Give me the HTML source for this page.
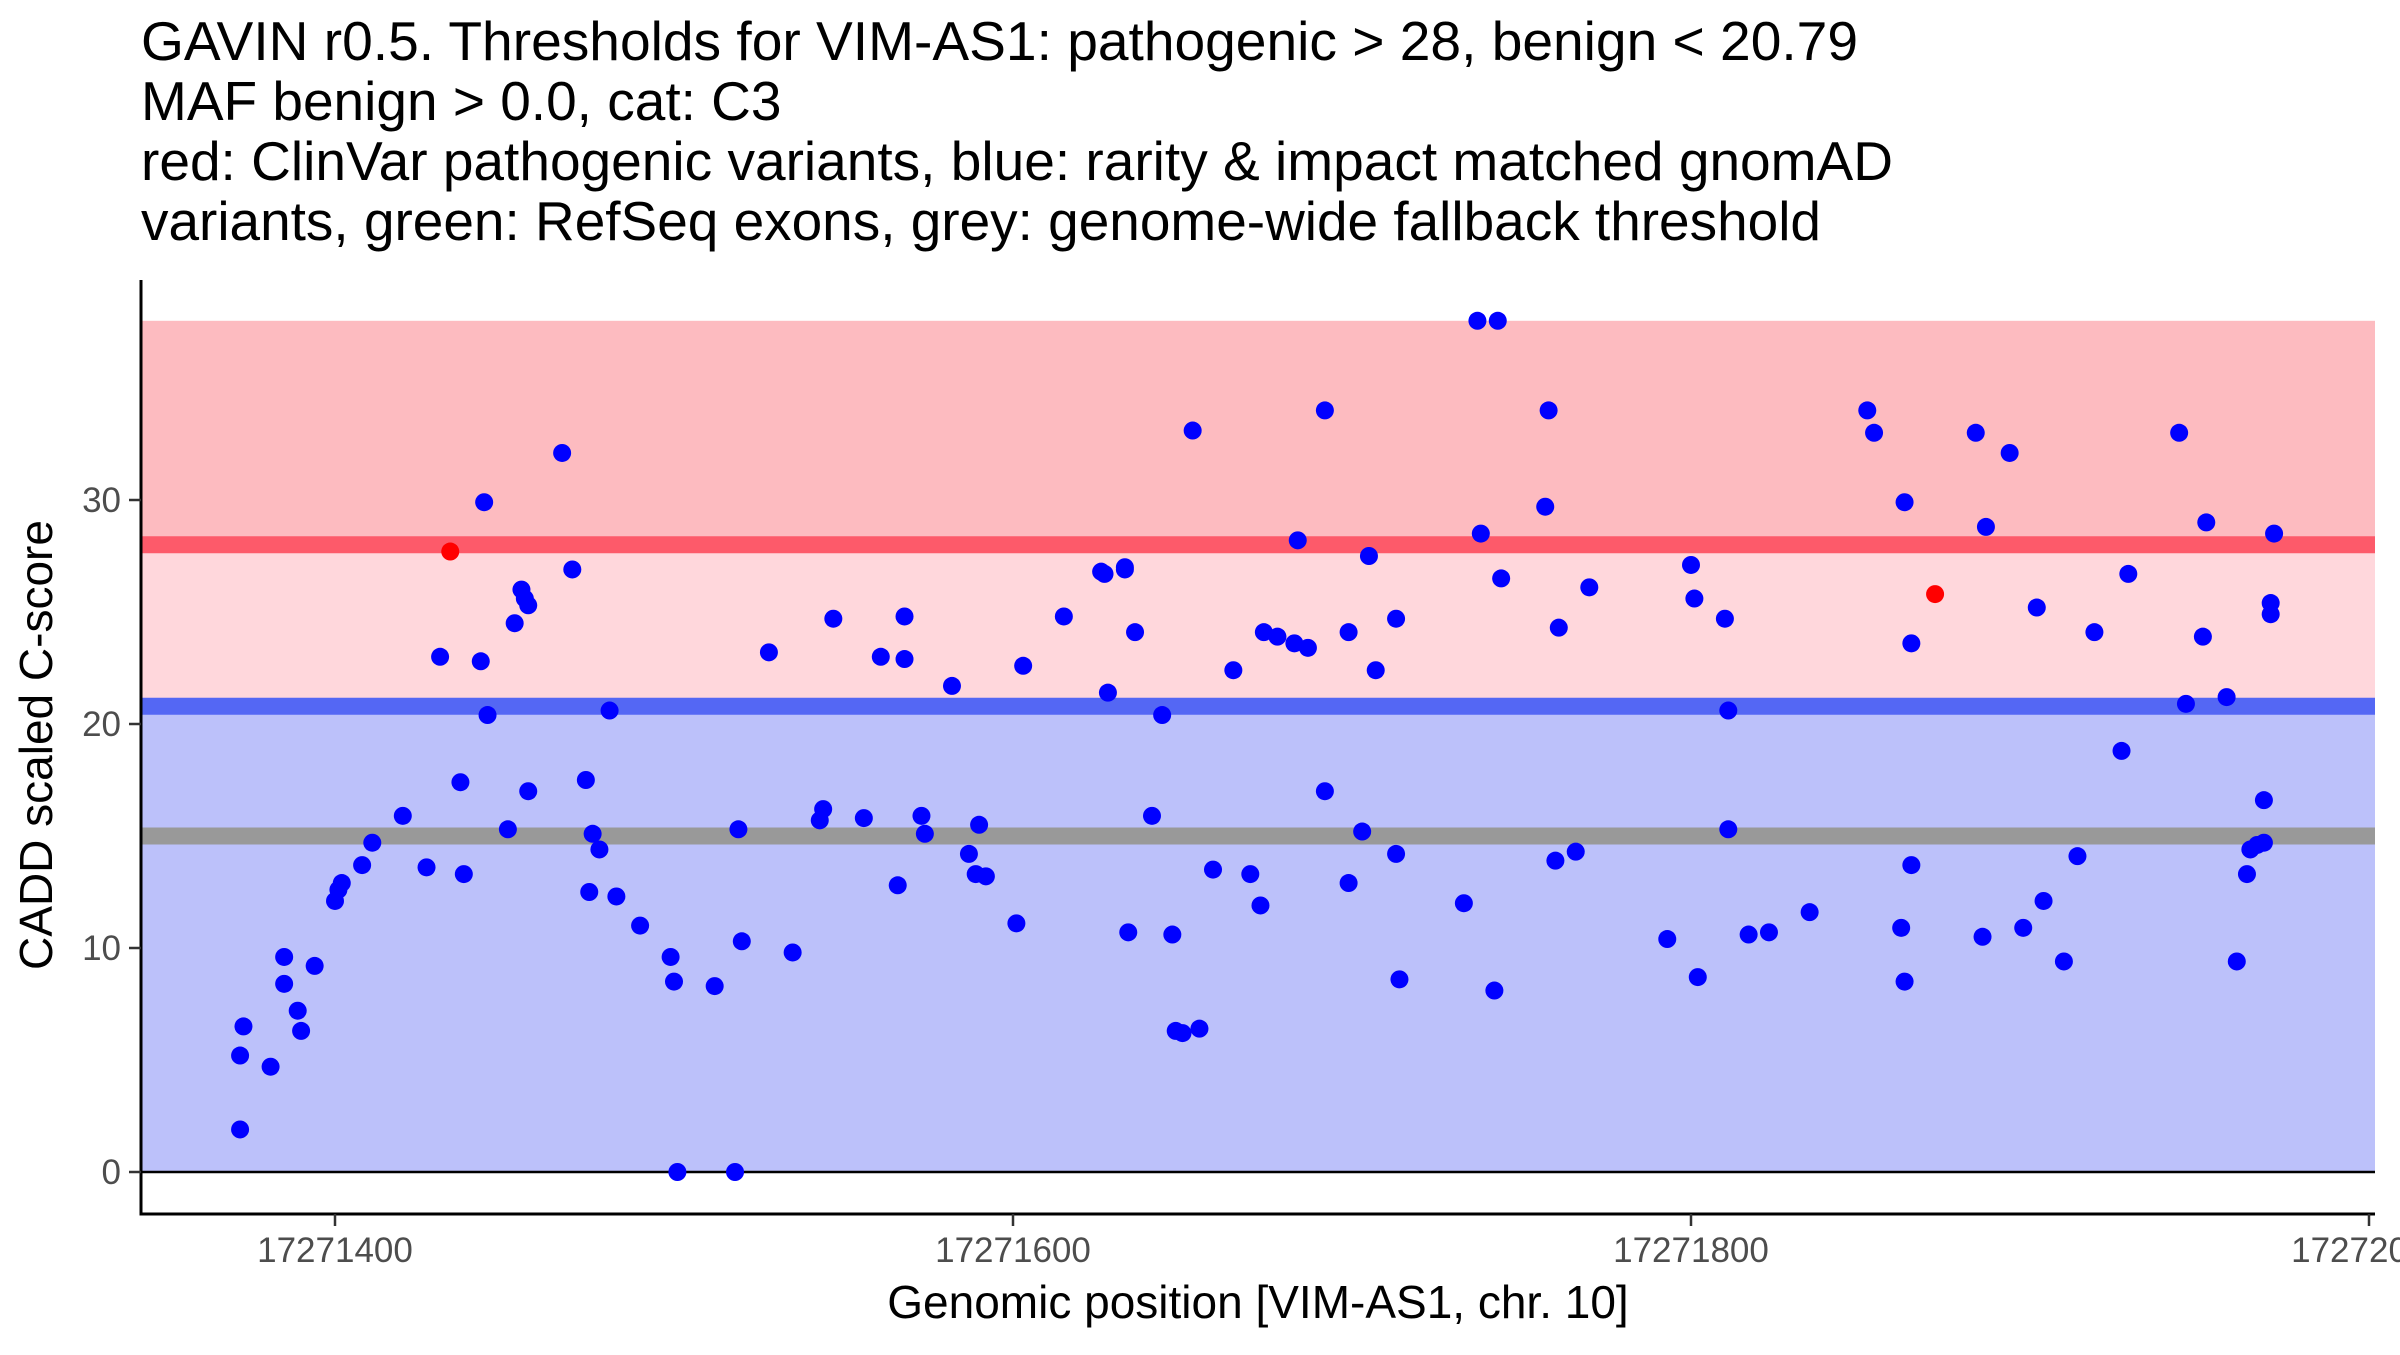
<!DOCTYPE html>
<html><head><meta charset="utf-8"><style>
html,body{margin:0;padding:0;background:#fff;}
svg text{font-family:"Liberation Sans",sans-serif;}
</style></head><body>
<svg id="chart" width="2400" height="1350" viewBox="0 0 2400 1350" xmlns="http://www.w3.org/2000/svg">
<g font-size="55" fill="#000">
<text x="141" y="60" textLength="1717" lengthAdjust="spacingAndGlyphs">GAVIN r0.5. Thresholds for VIM-AS1: pathogenic &gt; 28, benign &lt; 20.79</text>
<text x="141" y="120">MAF benign &gt; 0.0, cat: C3</text>
<text x="141" y="180" textLength="1752" lengthAdjust="spacingAndGlyphs">red: ClinVar pathogenic variants, blue: rarity &amp; impact matched gnomAD</text>
<text x="141" y="240" textLength="1680" lengthAdjust="spacingAndGlyphs">variants, green: RefSeq exons, grey: genome-wide fallback threshold</text>
</g>
<g id="bands"></g>
<g id="points"></g>
<g id="axes"></g>
<text x="1258" y="1318" font-size="46" text-anchor="middle">Genomic position [VIM-AS1, chr. 10]</text>
<text transform="translate(52,745) rotate(-90)" font-size="46" text-anchor="middle">CADD scaled C-score</text>
</svg>
<script>
const xTicks=[17271400,17271600,17271800,17272000];
const yTicks=[0,10,20,30];
const pathoThr=28, benignThr=20.79, fallbackThr=15, bandTop=38;
const benignPos=[17271372,17271372,17271373,17271381,17271385,17271385,17271389,17271390,17271394,17271400,17271401,17271402,17271408,17271411,17271420,17271427,17271431,17271437,17271438,17271443,17271444,17271445,17271451,17271453,17271455,17271456,17271457,17271457,17271467,17271470,17271474,17271475,17271476,17271478,17271481,17271483,17271490,17271499,17271500,17271501,17271512,17271518,17271519,17271520,17271528,17271535,17271543,17271544,17271547,17271556,17271561,17271566,17271568,17271568,17271573,17271574,17271582,17271587,17271589,17271590,17271592,17271601,17271603,17271615,17271626,17271627,17271628,17271633,17271633,17271634,17271636,17271641,17271644,17271647,17271648,17271650,17271653,17271655,17271659,17271665,17271670,17271673,17271674,17271678,17271683,17271684,17271687,17271692,17271692,17271699,17271699,17271703,17271705,17271707,17271713,17271713,17271714,17271733,17271737,17271738,17271743,17271742,17271744,17271757,17271758,17271760,17271761,17271766,17271770,17271793,17271800,17271801,17271802,17271810,17271811,17271811,17271817,17271823,17271835,17271852,17271854,17271862,17271863,17271863,17271865,17271865,17271884,17271886,17271887,17271894,17271898,17271902,17271904,17271910,17271914,17271919,17271927,17271929,17271944,17271946,17271951,17271952,17271958,17271961,17271964,17271965,17271967,17271969,17271969,17271971,17271971,17271972];
const benignScore=[1.9,5.2,6.5,4.7,9.6,8.4,7.2,6.3,9.2,12.1,12.6,12.9,13.7,14.7,15.9,13.6,23.0,17.4,13.3,22.8,29.9,20.4,15.3,24.5,26.0,25.6,25.3,17.0,32.1,26.9,17.5,12.5,15.1,14.4,20.6,12.3,11.0,9.6,8.5,0,8.3,0,15.3,10.3,23.2,9.8,15.7,16.2,24.7,15.8,23.0,12.8,22.9,24.8,15.9,15.1,21.7,14.2,13.3,15.5,13.2,11.1,22.6,24.8,26.8,26.7,21.4,27.0,26.9,10.7,24.1,15.9,20.4,10.6,6.3,6.2,33.1,6.4,13.5,22.4,13.3,11.9,24.1,23.9,23.6,28.2,23.4,17.0,34.0,12.9,24.1,15.2,27.5,22.4,24.7,14.2,8.6,12.0,38,28.5,38,8.1,26.5,29.7,34.0,13.9,24.3,14.3,26.1,10.4,27.1,25.6,8.7,24.7,20.6,15.3,10.6,10.7,11.6,34.0,33.0,10.9,8.5,29.9,23.6,13.7,33.0,10.5,28.8,32.1,10.9,25.2,12.1,9.4,14.1,24.1,18.8,26.7,33.0,20.9,23.9,29.0,21.2,9.4,13.3,14.4,14.6,14.7,16.6,25.4,24.9,28.5];
const pathoPos=[17271434,17271872];
const pathoScore=[27.7,25.8];

const NS="http://www.w3.org/2000/svg";
const L=141,R=2375,T=280,B=1214;
function xs(p){return 335+(p-17271400)*(678/200);}
function ys(v){return 1172-v*22.4;}
function mk(parent,tag,attrs){const e=document.createElementNS(NS,tag);for(const k in attrs)e.setAttribute(k,attrs[k]);parent.appendChild(e);return e;}
const bands=document.getElementById('bands');
let r=mk(bands,'rect',{x:L,y:ys(bandTop),width:R-L,height:ys(pathoThr)-ys(bandTop),fill:'#FDBBC0'});


r=mk(bands,'rect',{x:L,y:ys(pathoThr),width:R-L,height:ys(benignThr)-ys(pathoThr),fill:'#FFD7DC'});


r=mk(bands,'rect',{x:L,y:ys(benignThr),width:R-L,height:ys(0)-ys(benignThr),fill:'#BCC1FA'});


let ln=mk(bands,'line',{x1:L,x2:R,y1:ys(pathoThr),y2:ys(pathoThr),stroke:'#FD5A6A','stroke-width':17});


ln=mk(bands,'line',{x1:L,x2:R,y1:ys(benignThr),y2:ys(benignThr),stroke:'#5467F4','stroke-width':17});


ln=mk(bands,'line',{x1:L,x2:R,y1:ys(fallbackThr),y2:ys(fallbackThr),stroke:'#999999','stroke-width':17});


ln=mk(bands,'line',{x1:L,x2:R,y1:ys(0),y2:ys(0),stroke:'#000','stroke-width':2.5});


const pts=document.getElementById('points');
benignPos.forEach((p,i)=>{
  const c=mk(pts,'circle',{cx:xs(p),cy:ys(benignScore[i]),r:9,fill:'#0000FF'});
  
  
});
pathoPos.forEach((p,i)=>{
  const c=mk(pts,'circle',{cx:xs(p),cy:ys(pathoScore[i]),r:9,fill:'#FF0000'});
  
  
});
const ax=document.getElementById('axes');
let a=mk(ax,'line',{x1:L,x2:L,y1:T,y2:B+1.5,stroke:'#000','stroke-width':3});


a=mk(ax,'line',{x1:L-1.5,x2:R,y1:B,y2:B,stroke:'#000','stroke-width':3});


xTicks.forEach(t=>{
  const x=xs(t);
  const tk=mk(ax,'line',{x1:x,x2:x,y1:B,y2:B+12,stroke:'#333','stroke-width':2.5});
  
  
  const tx=mk(ax,'text',{x:x,y:1262,'font-size':35,fill:'#4D4D4D','text-anchor':'middle'});
  tx.textContent=t;
  
  
});
yTicks.forEach(t=>{
  const y=ys(t);
  const tk=mk(ax,'line',{x1:L-12,x2:L,y1:y,y2:y,stroke:'#333','stroke-width':2.5});
  
  
  const tx=mk(ax,'text',{x:L-20,y:y+12,'font-size':35,fill:'#4D4D4D','text-anchor':'end'});
  tx.textContent=t;
  
  
});
</script>
</body></html>
